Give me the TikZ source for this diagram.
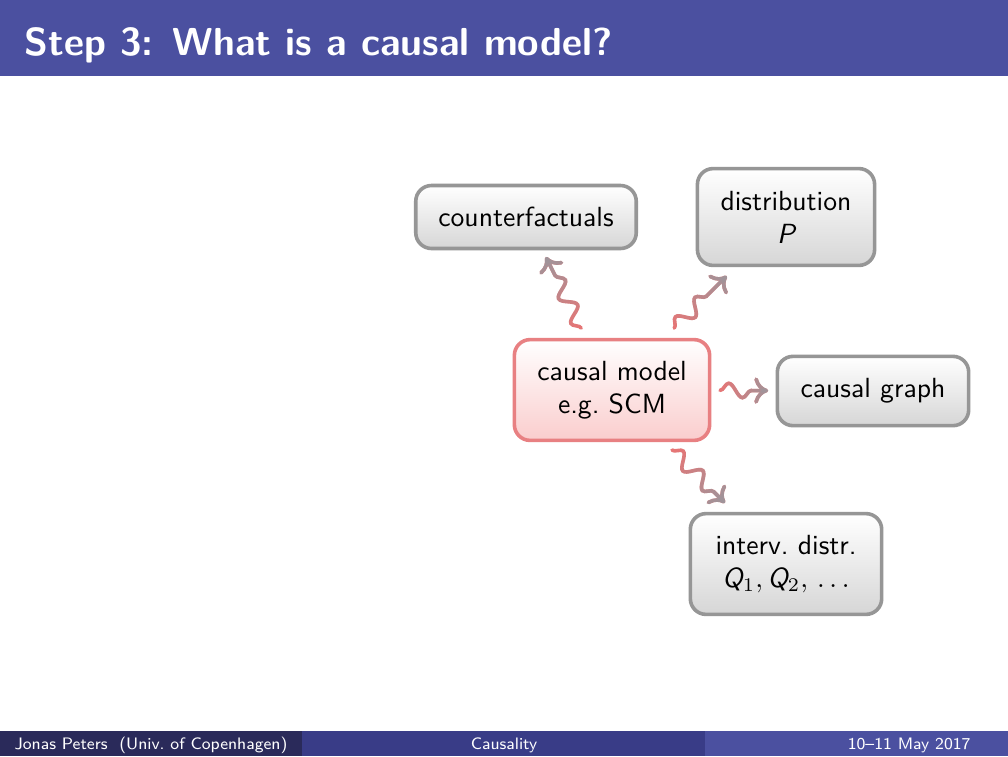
\documentclass[tikz,border=0pt]{standalone}
\usetikzlibrary{decorations.pathmorphing,arrows.meta,fadings,calc}
\definecolor{barblue}{RGB}{75,80,160}
\definecolor{footdark}{RGB}{42,42,90}
\definecolor{footmid}{RGB}{57,60,135}
\definecolor{boxgray}{RGB}{150,150,150}
\definecolor{boxbot}{RGB}{214,214,214}
\definecolor{cmred}{RGB}{232,128,130}
\definecolor{cmbot}{RGB}{250,205,205}
\definecolor{wred}{RGB}{230,118,118}
\definecolor{wgray}{RGB}{160,148,154}
\tikzfading[name=wigfade, left color=transparent!100, right color=transparent!0]
\begin{document}
\begin{tikzpicture}[x=0.127mm,y=0.127mm,
  font=\sffamily\fontsize{10pt}{12pt}\selectfont,
  box/.style={draw=boxgray, line width=1.3pt, rounded corners=2mm, top color=white, bottom color=boxbot, align=center, inner sep=0pt},
  cmbox/.style={box, draw=cmred, bottom color=cmbot},
  wig/.style={line width=1.3pt, line cap=round, decorate, decoration={snake, amplitude=2.6pt, segment length=10pt, post length=5.5pt}, -{To[length=5pt,width=9.5pt]}},
  foot/.style={text=white, font=\sffamily\fontsize{6pt}{7pt}\selectfont, inner sep=0pt},
]
\useasboundingbox (0,0) rectangle (1008,756);
\fill[white] (0,0) rectangle (1008,756);
% header
\fill[barblue] (0,680) rectangle (1008,756);
\node[anchor=base west, text=white, inner sep=0pt, font=\sffamily\bfseries\fontsize{14.1pt}{16pt}\selectfont] (title) at (24,701) {Step 3: What is a causal model?};
% footer
\fill[footdark] (0,0) rectangle (302,25);
\fill[footmid] (302,0) rectangle (705,25);
\fill[barblue] (705,0) rectangle (1008,25);
\node[foot, anchor=base] (fa) at (151,7) {Jonas Peters\ \ (Univ.\ of Copenhagen)};
\node[foot, anchor=base] (fb) at (504,7) {Causality};
\node[foot, anchor=base east] (fc) at (971,7) {10--11 May 2017};
% nodes
\node[box, minimum width=28mm, minimum height=8mm] (cf) at (526,539) {counterfactuals};
\node[box, minimum width=22.5mm, minimum height=12.3mm] (dist) at (786,539) {distribution\\{\itshape P}};
\node[cmbox, minimum width=24.8mm, minimum height=12.8mm] (cm) at (612,366) {causal model\\e.g.\ SCM};
\node[box, minimum width=24.3mm, minimum height=8.8mm] (cg) at (873,365) {causal graph};
\node[box, minimum width=24.3mm, minimum height=12.8mm] (iv) at (786,192) {interv.\ distr.\\{\itshape Q}$_1,\,${\itshape Q}$_2,\,\ldots$};
% connectors: red base, gray overlay fading in towards the tip
\draw[wig, wred] ($(cm)!0.358!(cf)$) -- ($(cm)!0.769!(cf)$);
\draw[wig, wgray, path fading=wigfade, fit fading=false, fading transform={shift={(561,463)}, rotate=116.4, xscale=0.56}] ($(cm)!0.358!(cf)$) -- ($(cm)!0.769!(cf)$);
\draw[wig, wred] ($(cm)!0.358!(dist)$) -- ($(cm)!0.659!(dist)$);
\draw[wig, wgray, path fading=wigfade, fit fading=false, fading transform={shift={(700,454)}, rotate=44.8, xscale=0.54}] ($(cm)!0.358!(dist)$) -- ($(cm)!0.659!(dist)$);
\draw[wig, wred] ($(cm)!0.414!(cg)$) -- ($(cm)!0.598!(cg)$);
\draw[wig, wgray, path fading=wigfade, fit fading=false, fading transform={shift={(744,364)}, rotate=0, xscale=0.35}] ($(cm)!0.414!(cg)$) -- ($(cm)!0.598!(cg)$);
\draw[wig, wred] ($(cm)!0.345!(iv)$) -- ($(cm)!0.649!(iv)$);
\draw[wig, wgray, path fading=wigfade, fit fading=false, fading transform={shift={(698,280)}, rotate=-45, xscale=0.49}] ($(cm)!0.345!(iv)$) -- ($(cm)!0.649!(iv)$);
\end{tikzpicture}
\end{document}
